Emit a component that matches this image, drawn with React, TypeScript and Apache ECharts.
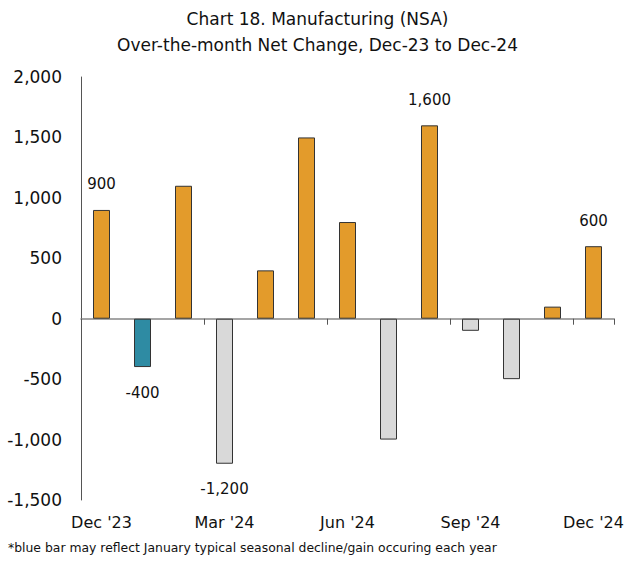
import React, { useEffect, useRef } from "react";
import * as echarts from "echarts";

const months = ["Dec '23", "Jan '24", "Feb '24", "Mar '24", "Apr '24", "May '24", "Jun '24", "Jul '24", "Aug '24", "Sep '24", "Oct '24", "Nov '24", "Dec '24"];
const values = [900, -400, 1100, -1200, 400, 1500, 800, -1000, 1600, -100, -500, 100, 600];
const labeled = [true, true, false, true, false, false, false, false, true, false, false, false, true];
const titleLines = ["Chart 18. Manufacturing (NSA)", "Over-the-month Net Change, Dec-23 to Dec-24"];
const footnote = "*blue bar may reflect January typical seasonal decline/gain occuring each year";

const FONT = "'DejaVu Sans', sans-serif";
const ORANGE = "#E39B2B";
const TEAL = "#2E8BA3";
const GRAY = "#D9D9D9";

function barColor(i: number, v: number) {
  if (i === 1) return TEAL;
  return v >= 0 ? ORANGE : GRAY;
}

export default function App() {
  const ref = useRef<HTMLDivElement>(null);
  useEffect(() => {
    if (!ref.current) return;
    const chart = echarts.init(ref.current, undefined, { renderer: "svg" });
    chart.setOption({
      animation: false,
      backgroundColor: "#fff",
      title: {
        text: titleLines.join("\n"),
        left: "center",
        top: 1,
        textStyle: { fontFamily: FONT, fontSize: 17, fontWeight: "normal", color: "#111", lineHeight: 26 },
      },
      graphic: [
        {
          type: "text",
          left: 8,
          top: 541,
          style: { text: footnote, fontFamily: FONT, fontSize: 12.4, fill: "#111" },
        },
      ],
      grid: { left: 81, right: 21, top: 77, bottom: 62, containLabel: false },
      xAxis: [
        {
          type: "category",
          data: months,
          position: "bottom",
          axisLine: { show: false, onZero: false },
          axisTick: { show: false },
          axisLabel: {
            interval: 2,
            fontFamily: FONT,
            fontSize: 16,
            color: "#111",
            margin: 14,
          },
        },
        {
          type: "category",
          data: months,
          position: "top",
          axisLine: { show: true, onZero: true, lineStyle: { color: "#888", width: 1.5 } },
          axisTick: { show: true, inside: true, interval: 2, length: 6, lineStyle: { color: "#555" } },
          axisLabel: { show: false },
        },
      ],
      yAxis: {
        type: "value",
        min: -1500,
        max: 2000,
        interval: 500,
        splitLine: { show: false },
        axisLine: { show: true, lineStyle: { color: "#555", width: 1 } },
        axisTick: { show: false },
        axisLabel: {
          fontFamily: FONT,
          fontSize: 17,
          color: "#111",
          margin: 19,
          formatter: (v: number) => v.toLocaleString("en-US"),
        },
      },
      series: [
        {
          type: "bar",
          barWidth: 17,
          data: values.map((v, i) => ({
            value: v,
            itemStyle: { color: barColor(i, v), borderColor: "#333", borderWidth: 1 },
            label: {
              show: labeled[i],
              position: v >= 0 ? "top" : "bottom",
              distance: 18,
              fontFamily: FONT,
              fontSize: 15,
              color: "#111",
              formatter: (p: any) => Number(p.value).toLocaleString("en-US"),
            },
          })),
        },
      ],
    });
    return () => chart.dispose();
  }, []);
  return <div ref={ref} style={{ position: "fixed", left: 0, top: 0, width: 635, height: 562 }} />;
}
